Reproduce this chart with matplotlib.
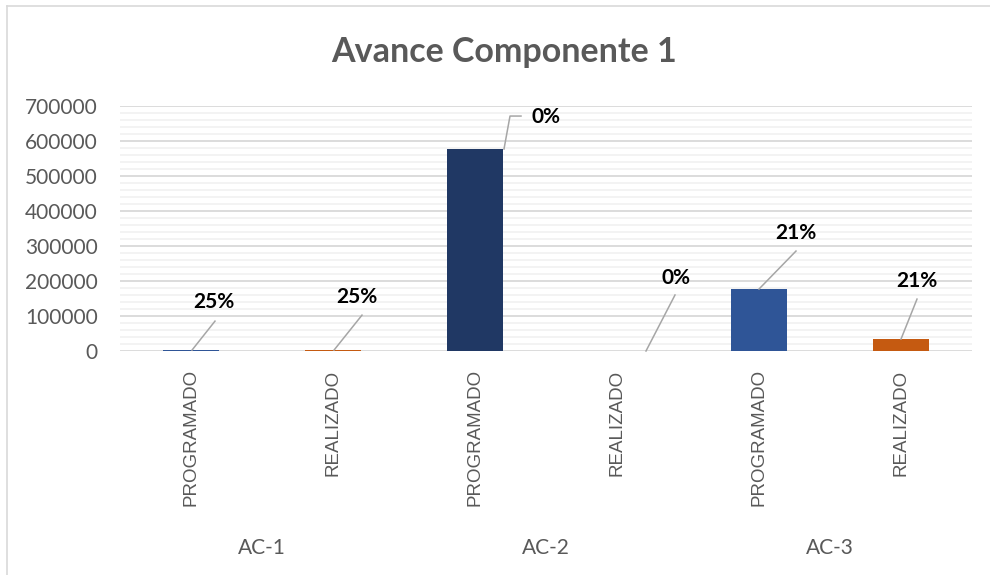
import numpy as np
import matplotlib.pyplot as plt
from matplotlib.lines import Line2D

# datos del grafico
grupos = ["AC-1", "AC-2", "AC-3"]
tipos = ["PROGRAMADO", "REALIZADO"]
valores = [2500, 2500, 577000, 0, 177000, 34000]
etiquetas = ["25%", "25%", "0%", "0%", "21%", "21%"]
colores = ["#2F5597", "#C55A11", "#203864", "#C55A11", "#2F5597", "#C55A11"]

# posicion de etiquetas (pixeles, relativo al tope de la barra)
pos_etiqueta = [(23, 48), (24, 53), (71, 32), (59, 73), (37, 56), (16, 58)]
lineas_guia = [
    [(1, 0), (24, 29)],
    [(1, 0), (29, 35)],
    [(29, 0), (35, 33), (46, 33)],
    [(29, 0), (58, 56)],
    [(0, 0), (37, 38)],
    [(0, 0), (16, 40)],
]

gris = "#595959"
W, H = 990, 575
fig = plt.figure(figsize=(W / 100, H / 100), dpi=100)
ax = fig.add_axes([120 / W, 1 - 351 / H, (972 - 120) / W, (351 - 106) / H])

x = np.arange(len(valores))
ax.bar(x, valores, width=0.4, color=colores, zorder=3)
ax.set_xlim(-0.5, len(valores) - 0.5)
ax.set_ylim(0, 700000)
ax.set_yticks(np.arange(0, 700001, 100000))
ax.set_yticks(np.arange(0, 700001, 20000), minor=True)
ax.grid(True, which="minor", axis="y", color="#F2F2F2", lw=1.3, zorder=0)
ax.grid(True, which="major", axis="y", color="#D9D9D9", lw=1.3, zorder=1)
ax.tick_params(axis="y", which="both", length=0, pad=16, labelsize=15, labelcolor=gris)
for t in ax.get_yticklabels():
    t.set_fontfamily("Lato")
ax.set_xticks(x)
ax.set_xticklabels([])
ax.tick_params(axis="x", length=0)
for s in ax.spines.values():
    s.set_visible(False)

# etiquetas de categoria (dos niveles)
for i in range(len(valores)):
    ax.text(i, -0.075, tipos[i % 2], transform=ax.get_xaxis_transform(),
            rotation=90, ha="center", va="top", fontsize=13.5,
            family="Liberation Sans", color=gris)
for g, nombre in enumerate(grupos):
    ax.text(2 * g + 0.5, -0.805, nombre, transform=ax.get_xaxis_transform(),
            ha="center", va="center", fontsize=15, family="Lato", color=gris)

fig.text(504 / W, 1 - 52 / H, "Avance Componente 1", ha="center", va="center",
         fontsize=24.5, fontweight="bold", family="Lato", color=gris)

# etiquetas de datos con lineas guia (coordenadas de pantalla)
for i, v in enumerate(valores):
    bx, by = ax.transData.transform((x[i], v))
    dx, dy = pos_etiqueta[i]
    fig.text((bx + dx) / W, (by + dy) / H, etiquetas[i], ha="center", va="center",
             fontsize=15, fontweight="bold", family="Lato", color="black")
    px = [bx + p[0] for p in lineas_guia[i]]
    py = [by + p[1] for p in lineas_guia[i]]
    fig.add_artist(Line2D(np.array(px) / W, np.array(py) / H, transform=fig.transFigure,
                          color="#A6A6A6", lw=1.1, zorder=5))

# borde del area del grafico
fig.add_artist(Line2D([7 / W, 1], [1 - 6 / H, 1 - 6 / H], transform=fig.transFigure,
                      color="#D9D9D9", lw=1.2))
fig.add_artist(Line2D([7 / W, 7 / W], [0, 1 - 6 / H], transform=fig.transFigure,
                      color="#D9D9D9", lw=1.2))

fig.savefig("out.png", dpi=100)
